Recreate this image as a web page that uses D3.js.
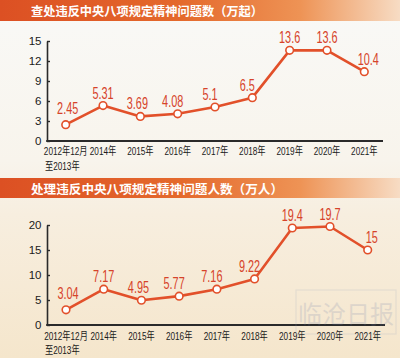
<!DOCTYPE html>
<html><head><meta charset="utf-8">
<script src="https://cdn.jsdelivr.net/npm/d3@7"></script>
<style>body{margin:0;}svg{display:block;}</style>
</head><body>
<script>
const categories = ["2012年12月", "2014年", "2015年", "2016年", "2017年", "2018年", "2019年", "2020年", "2021年"];
const categorySubLabel = "至2013年";
const casesValues = [2.45, 5.31, 3.69, 4.08, 5.1, 6.5, 13.6, 13.6, 10.4];
const casesLabels = ["2.45", "5.31", "3.69", "4.08", "5.1", "6.5", "13.6", "13.6", "10.4"];
const peopleValues = [3.04, 7.17, 4.95, 5.77, 7.16, 9.22, 19.4, 19.7, 15];
const peopleLabels = ["3.04", "7.17", "4.95", "5.77", "7.16", "9.22", "19.4", "19.7", "15"];
const casesTicks = [0, 3, 6, 9, 12, 15];
const peopleTicks = [0, 5, 10, 15, 20];
const title1 = "查处违反中央八项规定精神问题数（万起）";
const title2 = "处理违反中央八项规定精神问题人数（万人）";

const W = 400, H = 358;
const svg = d3.select("body").append("svg").attr("width", W).attr("height", H);
const defs = svg.append("defs");

const bg = defs.append("linearGradient").attr("id", "bg").attr("x1", 0).attr("y1", 0).attr("x2", 0).attr("y2", 1);
bg.append("stop").attr("offset", 0).attr("stop-color", "#f9f9f7");
bg.append("stop").attr("offset", 0.45).attr("stop-color", "#f8f4ec");
bg.append("stop").attr("offset", 0.6).attr("stop-color", "#f7eedf");
bg.append("stop").attr("offset", 1).attr("stop-color", "#f5e6cc");
svg.append("rect").attr("width", W).attr("height", H).attr("fill", "url(#bg)");

const ban = defs.append("linearGradient").attr("id", "ban").attr("x1", 0).attr("y1", 0).attr("x2", 1).attr("y2", 0);
ban.append("stop").attr("offset", 0).attr("stop-color", "#dc5023");
ban.append("stop").attr("offset", 0.45).attr("stop-color", "#e4692c");
ban.append("stop").attr("offset", 0.75).attr("stop-color", "#ee9355");
ban.append("stop").attr("offset", 1).attr("stop-color", "#f7dcc4");

function banner(y, h, text, baseline, len) {
  svg.append("rect").attr("x", 0).attr("y", y).attr("width", W).attr("height", h).attr("fill", "url(#ban)");
  svg.append("text").attr("x", 31).attr("y", baseline)
    .attr("font-family", "'Noto Sans CJK SC', sans-serif").attr("font-weight", "bold")
    .attr("font-size", 12.5).attr("fill", "#fff")
    .attr("textLength", len).attr("lengthAdjust", "spacingAndGlyphs").text(text);
}
banner(0, 21, title1, 16, 232);
banner(178, 20, title2, 193.5, 252);

const lineColor = "#e2502a";
const labelColor = "#d6432a";

function squeezed(parent, x, y, str, size, sx, anchor, fam, fill, weight) {
  return parent.append("text")
    .attr("transform", `translate(${x},${y}) scale(${sx},1)`)
    .attr("text-anchor", anchor)
    .attr("font-family", fam).attr("font-size", size).attr("font-weight", weight || "normal")
    .attr("fill", fill).text(str);
}

function chart(opts) {
  const {values, labels, ticks, yDomain, yRange, xRange, axisEnd, catBase, subBase} = opts;
  const x = d3.scalePoint().domain(categories).range(xRange);
  const y = d3.scaleLinear().domain(yDomain).range(yRange);
  const g = svg.append("g");
  const axisX = 47;
  const yAxis = d3.axisLeft(y).tickValues(ticks).tickSizeInner(-3).tickSizeOuter(0).tickPadding(5.5).tickFormat(d3.format("d"));
  const ga = g.append("g").attr("transform", `translate(${axisX},0)`).call(yAxis);
  ga.select(".domain").attr("stroke", "#2a2a2a").attr("stroke-width", 1.6);
  ga.selectAll(".tick line").attr("stroke", "#2a2a2a").attr("stroke-width", 1.4);
  ga.selectAll(".tick text").attr("font-family", "'Liberation Sans', Arial, sans-serif").attr("font-size", 11.5).attr("fill", "#1a1a1a");
  g.append("line").attr("x1", axisX - 0.8).attr("x2", axisEnd).attr("y1", y(0)).attr("y2", y(0))
    .attr("stroke", "#2a2a2a").attr("stroke-width", 1.8);
  const catFam = "'Liberation Sans', 'Noto Sans CJK SC', sans-serif";
  categories.forEach(c => squeezed(g, x(c), catBase, c, 10.8, 0.76, "middle", catFam, "#1a1a1a"));
  squeezed(g, 45, subBase, categorySubLabel, 10.8, 0.76, "start", catFam, "#1a1a1a");
  const line = d3.line().x((d, i) => x(categories[i])).y(d => y(d));
  g.append("path").datum(values).attr("d", line).attr("fill", "none")
    .attr("stroke", lineColor).attr("stroke-width", 2.6).attr("stroke-linejoin", "round");
  g.selectAll("circle").data(values).enter().append("circle")
    .attr("cx", (d, i) => x(categories[i])).attr("cy", d => y(d)).attr("r", 3.8)
    .attr("fill", "#fff").attr("stroke", lineColor).attr("stroke-width", 1.6);
  values.forEach((v, i) => {
    const next = values[i + 1];
    let dx = 0, dy = 0;
    if (i === 0 && next > v * 1.2) { dx = 2; dy = -4; }
    else if (next === undefined) dx = 4;
    else if (next > v * 1.2) dx = -5;
    else if (next > v * 1.1) dx = -3;
    squeezed(g, x(categories[i]) + dx, y(v) - 7 + dy, labels[i], 16.5, 0.66, "middle",
      "'Liberation Sans', Arial, sans-serif", labelColor);
  });
}

chart({values: casesValues, labels: casesLabels, ticks: casesTicks, yDomain: [0, 15], yRange: [141, 41],
  xRange: [65.7, 364.3], axisEnd: 383, catBase: 154.5, subBase: 169.5});
chart({values: peopleValues, labels: peopleLabels, ticks: peopleTicks, yDomain: [0, 20], yRange: [325, 225],
  xRange: [66, 367.7], axisEnd: 385, catBase: 339.5, subBase: 354});

const wm = svg.append("g").attr("opacity", 0.18);
wm.append("rect").attr("x", 296).attr("y", 290).attr("width", 100).attr("height", 44)
  .attr("fill", "none").attr("stroke", "#9aa6c0").attr("stroke-width", 1.2);
wm.append("text").attr("x", 346).attr("y", 323).attr("text-anchor", "middle")
  .attr("font-family", "'Noto Sans CJK SC', sans-serif").attr("font-size", 24).attr("fill", "#6f80a8")
  .text("临沧日报");
</script>
</body></html>
